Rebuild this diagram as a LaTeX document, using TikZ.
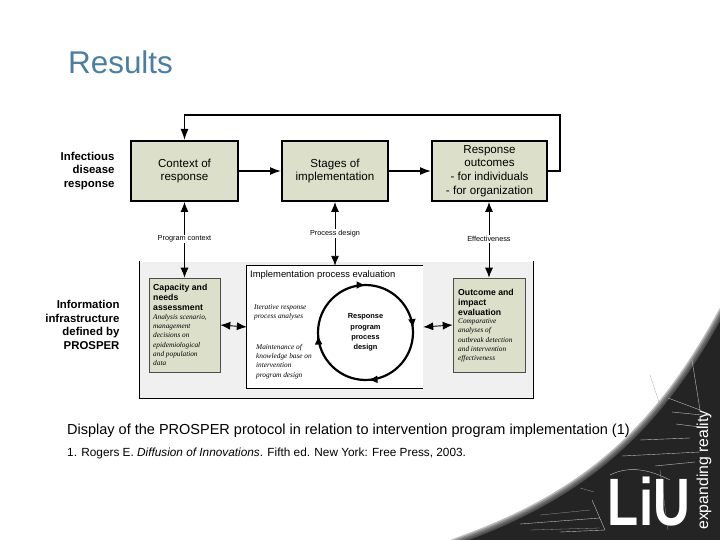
\documentclass[tikz,border=0pt]{standalone}
\usepackage{fontspec}
\setmainfont{Liberation Sans}
\newfontfamily\seriffont{Liberation Serif}
\usetikzlibrary{arrows.meta,decorations.markings}
\definecolor{boxgreen}{HTML}{DCE0CB}
\definecolor{titleblue}{HTML}{4A7FA3}
\definecolor{panelgray}{HTML}{F0F0F0}
\definecolor{cornerdark}{HTML}{242424}
\tikzset{
    respbox/.style={draw=black, line width=2pt, fill=boxgreen, align=center, inner sep=0pt, font=\fontsize{11.6}{13.8}\selectfont},
    infobox/.style={draw=black!70, line width=0.6pt, fill=boxgreen, inner sep=0pt},
    sidelabel/.style={align=right, anchor=east, font=\fontsize{11.4}{13.7}\selectfont\bfseries},
    linklabel/.style={fill=white, inner sep=1pt, font=\fontsize{7.3}{8}\selectfont},
    infohead/.style={align=left, anchor=north west, inner sep=0pt, font=\fontsize{8.7}{10.4}\selectfont\bfseries},
    noteit/.style={align=left, anchor=north west, inner sep=0pt, font=\fontsize{7.3}{9.3}\selectfont\seriffont\itshape},
    flow/.style={line width=1.5pt, -{Latex[length=11pt,width=8pt]}},
    link/.style={line width=0.9pt, {Latex[length=10pt,width=8pt]}-{Latex[length=10pt,width=8pt]}},
}
\begin{document}
\begin{tikzpicture}[x=1pt,y=-1pt]
    \useasboundingbox (0,0) rectangle (720,540);
    \fill[white] (0,0) rectangle (720,540);

    % corner picture
    \foreach \w in {14,11,8,5,2}
        \filldraw[cornerdark, opacity=0.3, line width=\w pt] (470,540) .. controls (590,495) and (660,430) .. (720,322) -- (730,550) -- cycle;
    \fill[cornerdark] (470,540) .. controls (590,495) and (660,430) .. (720,322) -- (730,550) -- cycle;
    \draw[white!75!black, line width=0.4pt] (668,398) -- (700,410) -- (692,360) (672,412) -- (712,416) (676,424) -- (708,428) (622,456) -- (700,452) (655,466) -- (695,462) (610,475) .. controls (630,465) and (650,470) .. (670,480) (592,500) -- (605,530) -- (560,532) (520,524) -- (600,518) (640,440) -- (690,438);
    \draw[white!60!black, line width=0.3pt] (540,515) -- (590,510) (530,530) -- (600,528) (594,492) -- (580,488) (660,470) -- (668,530) (650,375) -- (660,405);
    \node[white, anchor=center, inner sep=0pt] (logo) at (649,502) {\scalebox{0.76}[1]{\fontsize{67}{67}\selectfont\bfseries LiU}};
    \node[white, rotate=90, inner sep=0pt, font=\fontsize{15.8}{16}\selectfont] (motto) at (704,470) {expanding reality};

    \node[titleblue, anchor=west, inner sep=0pt, font=\fontsize{31.4}{32}\selectfont] (title) at (68,62) {Results};

    % top row
    \node[respbox, minimum width=107pt, minimum height=60pt] (context) at (184.5,171) {Context of\\response};
    \node[respbox, minimum width=106pt, minimum height=60pt] (stages) at (335,171) {Stages of\\implementation};
    \node[respbox, minimum width=115pt, minimum height=60pt] (outcomes) at (489.5,171) {Response\\outcomes\\- for individuals\\- for organization};
    \node[sidelabel] (disease) at (118,171) {Infectious\\disease\\response};

    \draw[flow] (context) -- (stages);
    \draw[flow] (stages) -- (outcomes);
    \draw[line width=1.5pt, -{Latex[length=11pt,width=8pt]}] (outcomes.east) -- (560,171) -- (560,115) -- (184.5,115) -- (context.north);

    % lower panel
    \node[fill=panelgray, inner sep=0pt, minimum width=393pt, minimum height=137pt] (panel) at (336.5,330) {};
    \draw[line width=0.7pt] (panel.north west) -- (panel.south west) -- (panel.south east) -- (panel.north east);
    \node[fill=white, inner sep=0pt, minimum width=176pt, minimum height=122pt] (evalbox) at (335,327) {};
    \draw[line width=0.7pt] (evalbox.north east) -- (evalbox.north west) -- (evalbox.south west) -- (evalbox.south east);
    \node[anchor=west, inner sep=0pt, font=\fontsize{9.4}{10}\selectfont] (evaltitle) at (250,275) {Implementation process evaluation};
    \node[infobox, minimum width=71pt, minimum height=94pt] (capacity) at (184.5,325) {};
    \node[infobox, minimum width=72pt, minimum height=94pt] (impact) at (489,325) {};

    \node[infohead] (capacityhead) at (153,283.5) {Capacity and\\needs\\assessment};
    \node[noteit] (capacitynote) at (153,314) {Analysis scenario,\\management\\decisions on\\epidemiological\\and population\\data};
    \node[infohead] (impacthead) at (458,288.5) {Outcome and\\impact\\evaluation};
    \node[noteit] (impactnote) at (458,318.5) {Comparative\\analyses of\\outbreak detection\\and intervention\\effectiveness};

    \node[noteit] (iterative) at (254,304) {Iterative response\\process analyses};
    \node[noteit] (maintain) at (256,344) {Maintenance of\\knowledge base on\\intervention\\program design};

    % process cycle
    \coordinate (cyclemid) at (365.5,332.5);
    \draw[line width=2.2pt, postaction={decorate}, decoration={markings,
        mark=at position 0.24 with {\arrow{Latex[length=9pt,width=8pt]}},
        mark=at position 0.49 with {\arrow{Latex[length=9pt,width=8pt]}},
        mark=at position 0.75 with {\arrow{Latex[length=9pt,width=8pt]}},
        mark=at position 0.985 with {\arrow{Latex[length=9pt,width=8pt]}}}] (cyclemid) circle (47.5);
    \node[align=center, inner sep=0pt, font=\fontsize{7.4}{10.4}\selectfont\bfseries] (design) at (cyclemid) {Response\\program\\process\\design};

    % links between the rows
    \draw[link] (context.south) -- (capacity.north) node[linklabel, pos=0.49] (programlabel) {Program context};
    \draw[link] (stages.south) -- (evalbox.north -| stages.south) node[linklabel, pos=0.49] (designlabel) {Process design};
    \draw[link] (outcomes.south -| impact.north) -- (impact.north) node[linklabel, pos=0.49] (effectlabel) {Effectiveness};
    \draw[link] (capacity.east) -- (evalbox.west);
    \draw[link] (evalbox.east) -- (impact.west);

    \node[sidelabel] (prosper) at (123,325) {Information\\infrastructure\\defined by\\PROSPER};

    \node[anchor=west, inner sep=0pt, font=\fontsize{14.5}{16}\selectfont] (caption) at (67,431) {Display of the PROSPER protocol in relation to intervention program implementation (1)};
    \node[anchor=west, inner sep=0pt, font=\fontsize{11.8}{13}\selectfont] (reference) at (67,453) {1. Rogers E. \textit{Diffusion of Innovations}. Fifth ed. New York: Free Press, 2003.};
\end{tikzpicture}
\end{document}
